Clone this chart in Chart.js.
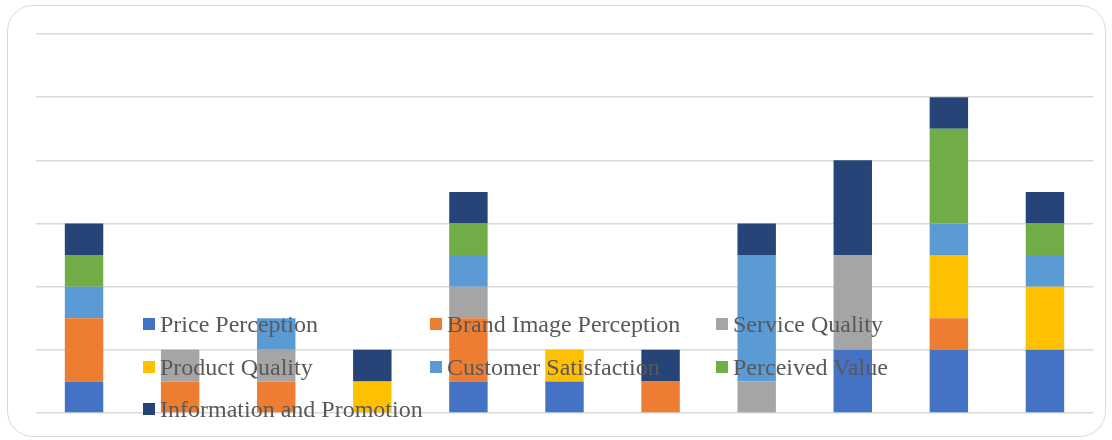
<!DOCTYPE html>
<html>
<head>
<meta charset="utf-8">
<script src="https://cdn.jsdelivr.net/npm/chart.js@4"></script>
<style>
    body { margin: 0; background: #fff; }
    .wrap { position: relative; width: 1112px; height: 440px; }
    canvas { display: block; }
    .frame {
        position: absolute; left: 7px; top: 5px; width: 1097px; height: 430px;
        border: 1.5px solid #d9d9d9; border-radius: 26px; pointer-events: none;
    }
    .legend { position: absolute; left: 0; top: 0; }
    .legend-item {
        position: absolute; display: flex; align-items: center;
        font-family: "Liberation Serif", "Times New Roman", serif;
        font-size: 24px; color: #595959; white-space: nowrap; line-height: 1;
    }
    .legend-item span.box { width: 12px; height: 12px; margin-right: 5px; display: inline-block; }
</style>
</head>
<body>
<div class="wrap">
    <canvas id="chart" width="1112" height="440"></canvas>
    <div class="frame"></div>
    <div class="legend" id="legend"></div>
</div>
<script>
// ---- DATA ----
const categories = ['1', '2', '3', '4', '5', '6', '7', '8', '9', '10', '11'];

const pricePerception      = [1, 0, 0, 0, 1, 1, 0, 0, 2, 2, 2];
const brandImagePerception = [2, 1, 1, 0, 2, 0, 1, 0, 0, 1, 0];
const serviceQuality       = [0, 1, 1, 0, 1, 0, 0, 1, 3, 0, 0];
const productQuality       = [0, 0, 0, 1, 0, 1, 0, 0, 0, 2, 2];
const customerSatisfaction = [1, 0, 1, 0, 1, 0, 0, 4, 0, 1, 1];
const perceivedValue       = [1, 0, 0, 0, 1, 0, 0, 0, 0, 3, 1];
const infoPromotion        = [1, 0, 0, 1, 1, 0, 1, 1, 3, 1, 1];

const yTicks = [0, 2, 4, 6, 8, 10, 12];

const series = [
    { label: 'Price Perception', data: pricePerception, color: '#4472C4' },
    { label: 'Brand Image Perception', data: brandImagePerception, color: '#ED7D31' },
    { label: 'Service Quality', data: serviceQuality, color: '#A5A5A5' },
    { label: 'Product Quality', data: productQuality, color: '#FFC000' },
    { label: 'Customer Satisfaction', data: customerSatisfaction, color: '#5B9BD5' },
    { label: 'Perceived Value', data: perceivedValue, color: '#70AD47' },
    { label: 'Information and Promotion', data: infoPromotion, color: '#264478' }
];

const chart = new Chart(document.getElementById('chart'), {
    type: 'bar',
    data: {
        labels: categories,
        datasets: series.map(s => ({
            label: s.label,
            data: s.data,
            backgroundColor: s.color,
            borderWidth: 0,
            categoryPercentage: 1,
            barPercentage: 0.4
        }))
    },
    options: {
        responsive: false,
        animation: false,
        layout: { padding: { left: 36, top: 34, right: 19, bottom: 19 } },
        plugins: {
            legend: { display: false },
            tooltip: { enabled: false }
        },
        scales: {
            x: {
                stacked: true,
                ticks: { display: false },
                grid: { display: false },
                border: { display: false }
            },
            y: {
                stacked: true,
                min: yTicks[0],
                max: yTicks[yTicks.length - 1],
                ticks: { display: false, stepSize: 2 },
                grid: { color: '#d9d9d9', lineWidth: 1.5, drawTicks: false },
                border: { display: false }
            }
        }
    }
});

// Legend laid over the plot area, three columns
const legendEl = document.getElementById('legend');
const colX = [143, 430, 716];
const rowY = [324, 367, 409];
series.forEach((s, i) => {
    const item = document.createElement('div');
    item.className = 'legend-item';
    item.style.left = colX[i % 3] + 'px';
    item.style.top = (rowY[Math.floor(i / 3)] - 12) + 'px';
    item.style.height = '24px';
    item.innerHTML = `<span class="box" style="background:${s.color}"></span>${s.label}`;
    legendEl.appendChild(item);
});
</script>
</body>
</html>
